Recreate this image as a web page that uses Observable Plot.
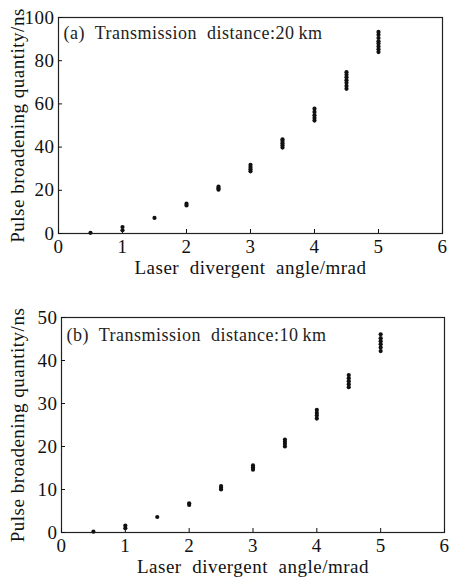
<!DOCTYPE html>
<html>
<head>
<meta charset="utf-8">
<script src="https://cdn.jsdelivr.net/npm/d3@7"></script>
<script src="https://cdn.jsdelivr.net/npm/@observablehq/plot@0.6"></script>
<style>
  html, body { margin: 0; padding: 0; background: #fff; }
  #chart svg { display: block; }
</style>
</head>
<body>
<div id="chart"></div>
<script>
const angles = [0.5, 1, 1.5, 2, 2.5, 3, 3.5, 4, 4.5, 5];
const broadening20km = [
  [0.3], [1.5, 3], [7.2], [13, 13.8], [20.3, 21, 21.7],
  [28.8, 29.8, 30.8, 31.8], [39.8, 40.8, 41.8, 42.8, 43.6],
  [52.3, 53.5, 54.8, 56.3, 57.8], [67, 68.3, 69.8, 71, 72.3, 73.5, 74.7],
  [84, 85.3, 86.6, 88, 89, 90.5, 92, 93.3]
];
const broadening10km = [
  [0.2], [1, 1.6], [3.6], [6.4, 6.8], [10, 10.4, 10.8],
  [14.6, 15.1, 15.6], [20, 20.6, 21.1, 21.6], [26.5, 27.2, 27.8, 28.5],
  [33.8, 34.5, 35.2, 35.9, 36.6], [42.2, 43, 43.8, 44.5, 45.2, 46.1]
];
const xTicks = [0, 1, 2, 3, 4, 5, 6];
const yTicks20 = [0, 20, 40, 60, 80, 100];
const yTicks10 = [0, 10, 20, 30, 40, 50];
const titleA = "(a)  Transmission  distance:20\u2009km";
const titleB = "(b)  Transmission  distance:10\u2009km";
const xLabel = "Laser  divergent  angle/mrad";
const yLabel = "Pulse broadening quantity/ns";

function rows(values) {
  return angles.flatMap((a, i) => values[i].map(v => ({angle: a, value: v})));
}

function panel({data, yMax, yTicks, title, height, m}) {
  return Plot.plot({
    width: 449,
    height,
    marginLeft: m.left, marginRight: m.right, marginTop: m.top, marginBottom: m.bottom,
    style: {fontFamily: "Liberation Serif, Times New Roman, serif", fontSize: "17px", color: "#111", background: "#fff", letterSpacing: "0.5px"},
    x: {domain: [0, 6]},
    y: {domain: [0, yMax]},
    marks: [
      Plot.frame({stroke: "#222", strokeWidth: 1.2}),
      Plot.axisX({ticks: xTicks, tickSize: -4, tickPadding: 10, tickFormat: d => d, label: null, fontSize: 19}),
      Plot.axisY({ticks: yTicks, tickSize: -4, tickPadding: 8, tickFormat: d => d, label: null, fontSize: 19}),
      Plot.text([xLabel], {frameAnchor: "bottom", dy: m.xLabelDy, fontSize: 19, textAnchor: "middle", lineAnchor: "middle"}),
      Plot.text([yLabel], {frameAnchor: "left", dx: m.yLabelDx, rotate: -90, fontSize: 19, textAnchor: "middle"}),
      Plot.text([title], {frameAnchor: "top-left", dx: 5, dy: m.titleDy, fontSize: 18, textAnchor: "start", lineAnchor: "middle", fill: "#222"}),
      Plot.dot(data, {x: "angle", y: "value", r: 2.1, fill: "#111", stroke: null})
    ]
  });
}

const chart = document.getElementById("chart");
chart.append(panel({
  data: rows(broadening20km), yMax: 100, yTicks: yTicks20, title: titleA, height: 290,
  m: {left: 58, right: 7, top: 17, bottom: 57, xLabelDy: 34, yLabelDx: -41, titleDy: 16}
}));
chart.append(panel({
  data: rows(broadening10km), yMax: 50, yTicks: yTicks10, title: titleB, height: 287,
  m: {left: 61, right: 5, top: 27, bottom: 45, xLabelDy: 34, yLabelDx: -44, titleDy: 18}
}));
</script>
</body>
</html>
